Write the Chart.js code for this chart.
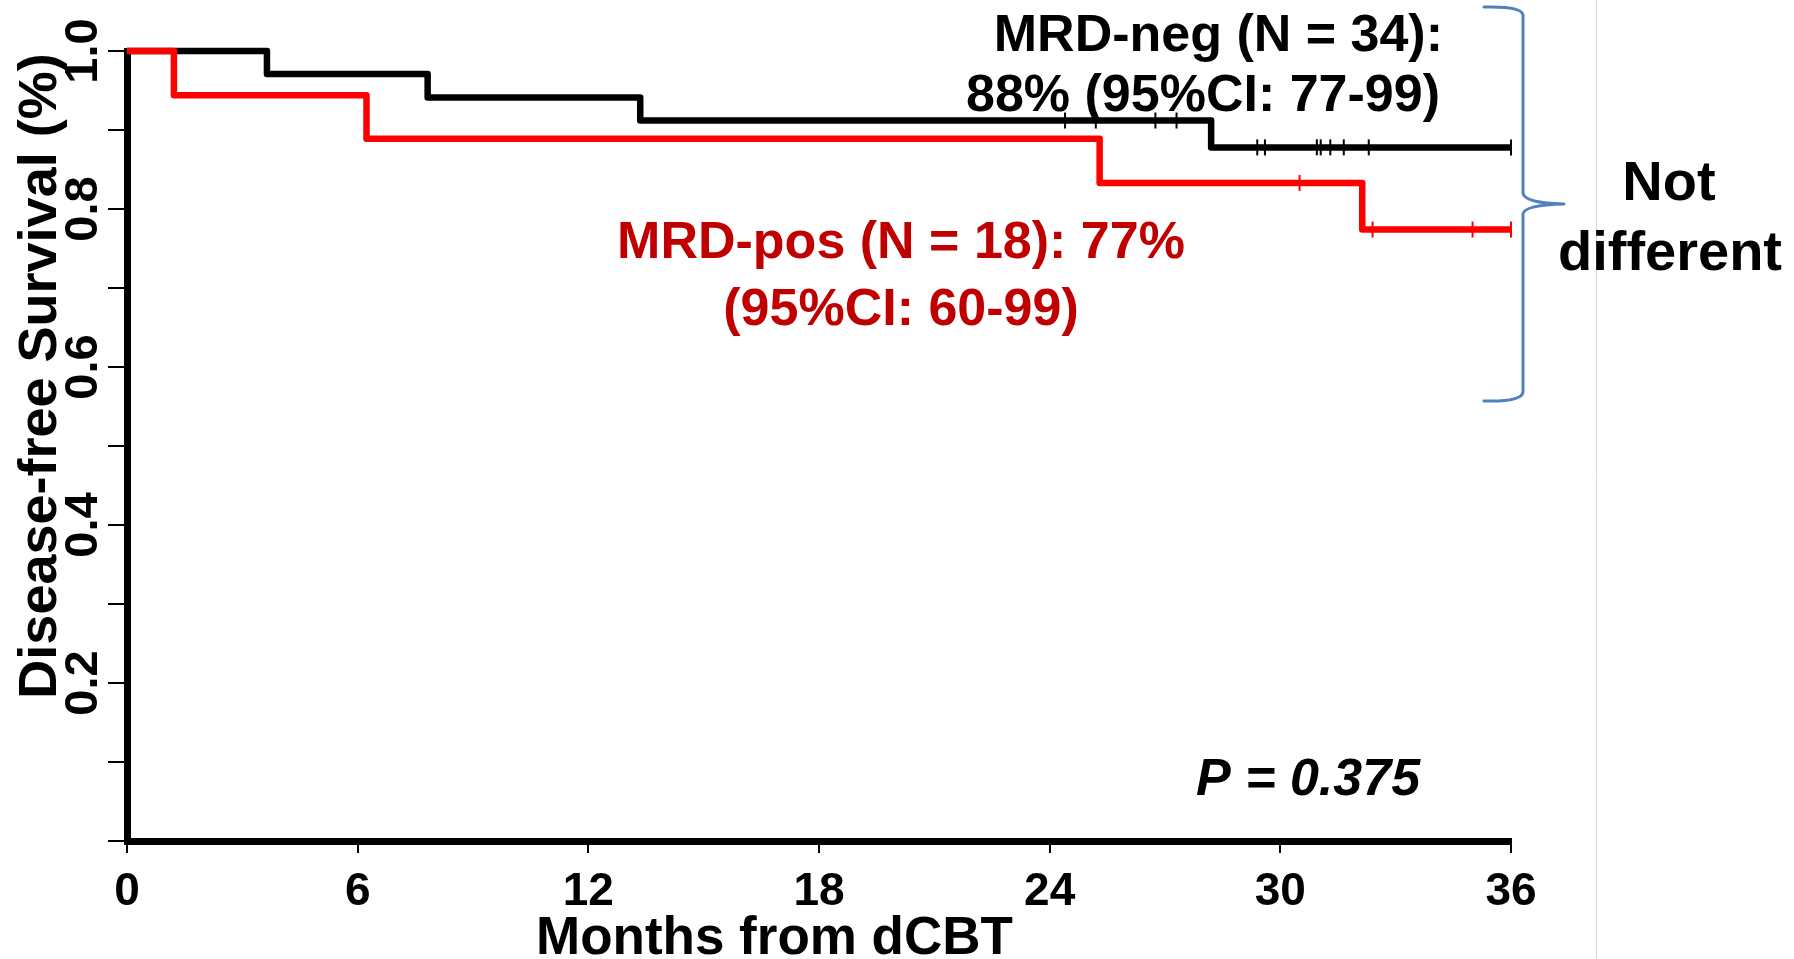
<!DOCTYPE html>
<html>
<head>
<meta charset="utf-8">
<script src="https://cdn.jsdelivr.net/npm/chart.js@4.4.1/dist/chart.umd.min.js"></script>
<style>
  html, body { margin: 0; padding: 0; background: #fff; }
  #wrap { width: 1794px; height: 959px; position: relative; }
  canvas { display: block; }
</style>
</head>
<body>
<div id="wrap"><canvas id="c" width="1794" height="959"></canvas></div>
<script>
// ---- data ----
const negTimes = [0, 3.64, 7.82, 13.35, 28.2, 36];
const negSurv  = [1, 0.971, 0.941, 0.912, 0.878, 0.878];
const negCensorTimes = [24.4, 25.2, 26.75, 27.3, 29.4, 29.6, 30.95, 31.05, 31.3, 31.65, 32.3, 36];
const negCensorSurv  = [0.912, 0.912, 0.912, 0.912, 0.878, 0.878, 0.878, 0.878, 0.878, 0.878, 0.878, 0.878];

const posTimes = [0, 1.22, 6.23, 25.3, 32.13, 36];
const posSurv  = [1, 0.944, 0.889, 0.833, 0.774, 0.774];
const posCensorTimes = [30.5, 32.4, 35.0, 36];
const posCensorSurv  = [0.833, 0.774, 0.774, 0.774];

const xTickValues = [0, 6, 12, 18, 24, 30, 36];
const yTickValues = [0.2, 0.4, 0.6, 0.8, 1.0];
const yTickLabels = ['0.2', '0.4', '0.6', '0.8', '1.0'];

const xTitle = 'Months from dCBT';
const yTitle = 'Disease-free Survival (%)';
const negLabelLines = ['MRD-neg (N = 34):', '88% (95%CI: 77-99)'];
const posLabelLines = ['MRD-pos (N = 18): 77%', '(95%CI: 60-99)'];
const braceLabelLines = ['Not', 'different'];
const pText = 'P = 0.375';

const FONT = '"Liberation Sans", Arial, Helvetica, sans-serif';

function pts(xs, ys) { return xs.map((x, i) => ({ x: x, y: ys[i] })); }

const decorPlugin = {
  id: 'decor',
  beforeDraw(chart) {
    const ctx = chart.ctx;
    ctx.save();
    ctx.fillStyle = '#ffffff';
    ctx.fillRect(0, 0, chart.width, chart.height);
    ctx.strokeStyle = '#d4d4d4';
    ctx.lineWidth = 1;
    ctx.beginPath();
    ctx.moveTo(1596.5, 0);
    ctx.lineTo(1596.5, chart.height);
    ctx.stroke();
    ctx.restore();
  },
  afterDraw(chart) {
    const ctx = chart.ctx;
    const y = chart.scales.y;
    ctx.save();
    ctx.fillStyle = '#000';
    ctx.font = 'bold 47px ' + FONT;
    ctx.textAlign = 'center';
    ctx.textBaseline = 'alphabetic';
    yTickValues.forEach((v, i) => {
      const py = y.getPixelForValue(v);
      ctx.save();
      ctx.translate(97, py);
      ctx.rotate(-Math.PI / 2);
      ctx.fillText(yTickLabels[i], 0, 0);
      ctx.restore();
    });
    // y title
    ctx.font = 'bold 54px ' + FONT;
    ctx.save();
    ctx.translate(56, 376);
    ctx.rotate(-Math.PI / 2);
    ctx.textAlign = 'center';
    ctx.fillText(yTitle, 0, 0);
    ctx.restore();
    // x title
    ctx.font = 'bold 53px ' + FONT;
    ctx.textAlign = 'left';
    ctx.fillText(xTitle, 536, 954);

    // MRD-neg label
    ctx.font = 'bold 52px ' + FONT;
    ctx.textAlign = 'right';
    ctx.fillStyle = '#000';
    ctx.fillText(negLabelLines[0], 1443, 51);
    ctx.fillText(negLabelLines[1], 1440, 111);

    // MRD-pos label
    ctx.fillStyle = '#C00000';
    ctx.textAlign = 'center';
    ctx.font = 'bold 52px ' + FONT;
    ctx.fillText(posLabelLines[0], 901, 258);
    ctx.fillText(posLabelLines[1], 901, 325);

    // Not different
    ctx.fillStyle = '#000';
    ctx.font = 'bold 56px ' + FONT;
    ctx.fillText(braceLabelLines[0], 1669, 200);
    ctx.fillText(braceLabelLines[1], 1670, 270);

    // P value
    ctx.font = 'italic bold 52px ' + FONT;
    ctx.textAlign = 'left';
    ctx.fillText(pText, 1196, 795);

    // brace
    ctx.strokeStyle = '#4F81BD';
    ctx.lineWidth = 3;
    ctx.lineCap = 'round';
    ctx.lineJoin = 'round';
    ctx.beginPath();
    ctx.moveTo(1484, 7);
    ctx.quadraticCurveTo(1522, 6, 1523, 15);
    ctx.lineTo(1523, 193);
    ctx.quadraticCurveTo(1524, 203, 1564, 204);
    ctx.quadraticCurveTo(1524, 205, 1523, 214);
    ctx.lineTo(1523, 392);
    ctx.quadraticCurveTo(1522, 402, 1484, 401);
    ctx.stroke();
    ctx.restore();
  }
};

const lineCommon = {
  stepped: 'before',
  borderWidth: 6.5,
  pointRadius: 0,
  pointHoverRadius: 0,
  fill: false,
  borderJoinStyle: 'round',
  borderCapStyle: 'butt',
  clip: false,
  showLine: true
};
const censorCommon = {
  showLine: false,
  pointStyle: 'line',
  pointRotation: 90,
  pointRadius: 8,
  pointBorderWidth: 2,
  clip: false
};

new Chart(document.getElementById('c'), {
  type: 'line',
  data: {
    datasets: [
      Object.assign({ label: 'MRD-pos', data: pts(posTimes, posSurv), borderColor: '#FF0000' }, lineCommon),
      Object.assign({ label: 'MRD-pos censored', data: pts(posCensorTimes, posCensorSurv), borderColor: '#FF0000', pointBorderColor: '#FF0000' }, censorCommon),
      Object.assign({ label: 'MRD-neg', data: pts(negTimes, negSurv), borderColor: '#000000' }, lineCommon),
      Object.assign({ label: 'MRD-neg censored', data: pts(negCensorTimes, negCensorSurv), borderColor: '#000000', pointBorderColor: '#000000' }, censorCommon)
    ]
  },
  options: {
    responsive: false,
    animation: false,
    devicePixelRatio: 1,
    layout: { padding: { left: 0, right: 283, top: 51, bottom: 0 } },
    plugins: { legend: { display: false }, tooltip: { enabled: false } },
    scales: {
      x: {
        type: 'linear',
        min: 0, max: 36,
        afterBuildTicks: (s) => { s.ticks = xTickValues.map(v => ({ value: v })); },
        afterFit: (s) => { s.height = 118; },
        border: { display: true, color: '#000', width: 7 },
        grid: { drawOnChartArea: false, drawTicks: true, tickLength: 12, color: '#000', lineWidth: 2 },
        ticks: {
          color: '#000',
          font: { family: FONT, size: 46, weight: 'bold' },
          padding: 12,
          maxRotation: 0,
          autoSkip: false
        }
      },
      y: {
        type: 'linear',
        min: 0, max: 1,
        afterFit: (s) => { s.width = 127; },
        border: { display: true, color: '#000', width: 7 },
        grid: { drawOnChartArea: false, drawTicks: true, tickLength: 19, color: '#000', lineWidth: 2 },
        ticks: { stepSize: 0.1, callback: () => '', padding: 0 }
      }
    }
  },
  plugins: [decorPlugin]
});
</script>
</body>
</html>
